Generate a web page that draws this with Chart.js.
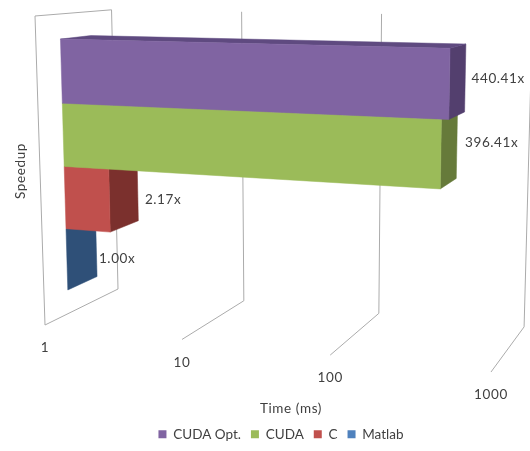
<!DOCTYPE html>
<html>
<head>
<meta charset="utf-8">
<title>Speedup</title>
<style>
  html, body { margin: 0; padding: 0; background: #fff; }
  #wrap { width: 530px; height: 451px; }
</style>
<script src="https://cdn.jsdelivr.net/npm/chart.js@4/dist/chart.umd.min.js"></script>
</head>
<body>
<div id="wrap"><canvas id="chart" width="530" height="451"></canvas></div>
<script>
// Series, top to bottom in the stack
const seriesNames = ['CUDA Opt.', 'CUDA', 'C', 'Matlab'];
const speedups = [440.41, 396.41, 2.17, 1.00];
const timeTicks = [1, 10, 100, 1000];

const frontColors = ['#8064A2', '#9BBB59', '#C0504D', '#4F81BD'];
const sideColors = ['#533F6E', '#667A3A', '#7B302D', '#2F5078'];
const topColors = ['#5F4A80', '#7A9446', '#983F3D', '#3E6695'];

const TEXT = '#404040';
const GRID = '#ABABAB';
const FONT = 'Lato, sans-serif';
const TRACKING = '0.6px';

// Projective camera: homogeneous image of (u, depth, height) in the unit box
const CAM = {
  o: [45, 325, 1],
  u: [390.5, 5.0, -0.113],
  d: [85.7, -4.9, 0.1075],
  z: [-11.29, -309.6, -0.0369]
};
function project(u, d, z) {
  const h = [0, 1, 2].map(i => CAM.o[i] + u * CAM.u[i] + d * CAM.d[i] + z * CAM.z[i]);
  return [h[0] / h[2], h[1] / h[2]];
}

const DEPTH_FRONT = 0.3;
const DEPTH_BACK = 0.7;
// Nudges for the value labels, relative to the centre of each bar's end cap
const labelNudge = [[14, -2], [16, -7], [21, 4], [17, 5]];

function polygon(ctx, pts, fill) {
  ctx.beginPath();
  pts.forEach((p, i) => i ? ctx.lineTo(p[0], p[1]) : ctx.moveTo(p[0], p[1]));
  ctx.closePath();
  ctx.fillStyle = fill;
  ctx.strokeStyle = fill;
  ctx.lineWidth = 0.5;
  ctx.fill();
  ctx.stroke();
}
function segment(ctx, a, b) {
  ctx.beginPath();
  ctx.moveTo(a[0], a[1]);
  ctx.lineTo(b[0], b[1]);
  ctx.stroke();
}

const box3d = {
  id: 'box3d',
  beforeInit(chart) {
    chart.ctx.letterSpacing = TRACKING;
  },
  beforeDatasetsDraw(chart) {
    const { ctx, chartArea: area, scales } = chart;
    const toU = px => (px - area.left) / (area.right - area.left);
    const toZ = px => (area.bottom - px) / (area.bottom - area.top);
    const tickU = timeTicks.map(t => toU(scales.x.getPixelForValue(t)));

    ctx.save();
    ctx.letterSpacing = TRACKING;

    // Walls and floor rulings
    ctx.strokeStyle = GRID;
    ctx.lineWidth = 1;
    tickU.forEach((u, i) => {
      const front = project(u, 0, 0), back = project(u, 1, 0), high = project(u, 1, 1);
      segment(ctx, front, back);
      segment(ctx, back, high);
      if (i === 0) {
        const frontHigh = project(u, 0, 1);
        segment(ctx, high, frontHigh);
        segment(ctx, frontHigh, front);
      }
    });

    // Bars, lowest first so upper bars overlap the ones beneath
    const order = seriesNames.map((_, i) => i).reverse();
    const caps = [];
    order.forEach(i => {
      const el = chart.getDatasetMeta(i).data[0];
      const u0 = toU(scales.x.getPixelForValue(timeTicks[0]));
      const u1 = toU(el.x);
      const zHi = toZ(el.y - el.height / 2);
      const zLo = toZ(el.y + el.height / 2);
      const f = DEPTH_FRONT, b = DEPTH_BACK;
      polygon(ctx, [project(u1, f, zLo), project(u1, b, zLo), project(u1, b, zHi), project(u1, f, zHi)], sideColors[i]);
      polygon(ctx, [project(u0, f, zHi), project(u0, b, zHi), project(u1, b, zHi), project(u1, f, zHi)], topColors[i]);
      if (u1 > u0) {
        polygon(ctx, [project(u0, f, zLo), project(u1, f, zLo), project(u1, f, zHi), project(u0, f, zHi)], frontColors[i]);
      }
      caps[i] = project(u1, (f + b) / 2, (zHi + zLo) / 2);
    });

    // Value labels
    ctx.font = '13.5px ' + FONT;
    ctx.fillStyle = TEXT;
    ctx.textBaseline = 'middle';
    ctx.textAlign = 'left';
    speedups.forEach((v, i) => {
      ctx.fillText(v.toFixed(2) + 'x', caps[i][0] + labelNudge[i][0], caps[i][1] + labelNudge[i][1]);
    });

    // Tick labels under the front edge of the floor
    ctx.textAlign = 'center';
    timeTicks.forEach((t, i) => {
      const p = project(tickU[i], 0, 0);
      ctx.fillText(String(t), p[0], p[1] + 23);
    });

    // Axis titles
    ctx.fillText('Time (ms)', 291, 409);
    ctx.translate(21, 171);
    ctx.rotate(-Math.PI / 2);
    ctx.fillText('Speedup', 0, 0);

    ctx.restore();
    return false;
  }
};

new Chart(document.getElementById('chart'), {
  type: 'bar',
  data: {
    labels: ['Speedup'],
    datasets: seriesNames.map((name, i) => ({
      label: name,
      data: [speedups[i]],
      backgroundColor: frontColors[i],
      categoryPercentage: 0.838,
      barPercentage: 1
    }))
  },
  options: {
    indexAxis: 'y',
    responsive: false,
    animation: false,
    layout: { padding: { left: 32, bottom: 0 } },
    scales: {
      x: { type: 'logarithmic', min: 1, max: 1000, display: false },
      y: { display: false }
    },
    plugins: {
      tooltip: { enabled: false },
      legend: {
        position: 'bottom',
        labels: {
          boxWidth: 8,
          boxHeight: 8,
          padding: 10,
          color: TEXT,
          font: { family: FONT, size: 13.5 }
        }
      }
    }
  },
  plugins: [box3d]
});
</script>
</body>
</html>
